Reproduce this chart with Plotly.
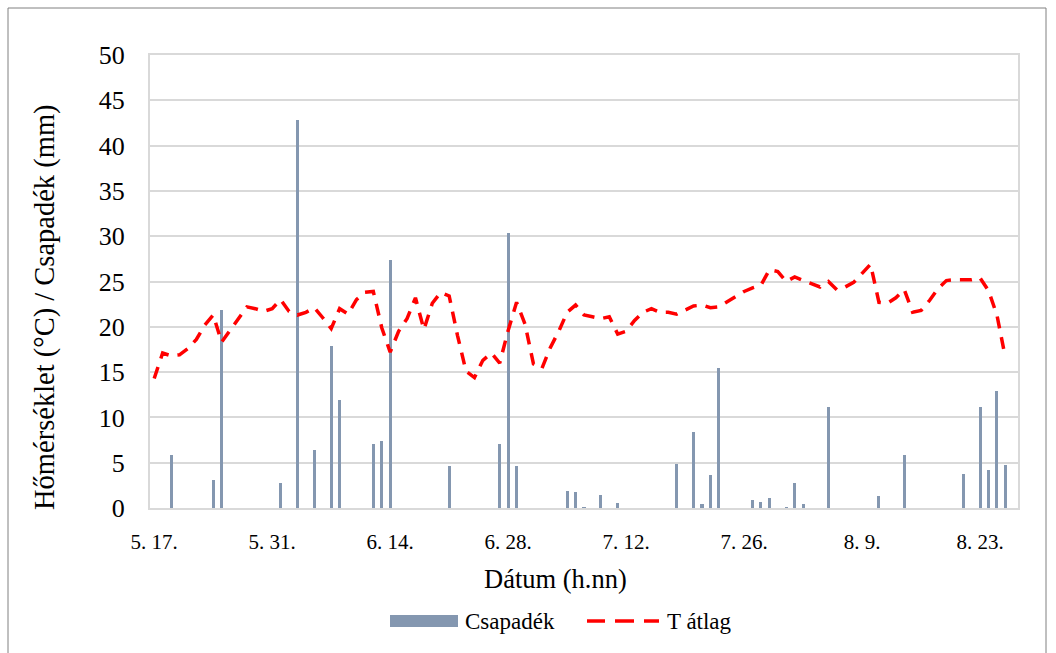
import pandas as pd
import plotly.graph_objects as go

# ---------------- data ----------------
dates = pd.date_range("2021-05-17", "2021-08-27", freq="D")  # 103 days

precip = [0, 0, 5.9, 0, 0, 0, 0, 3.1, 21.8, 0,
          0, 0, 0, 0, 0, 2.8, 0, 42.8, 0, 6.4,
          0, 17.9, 11.9, 0, 0, 0, 7.1, 7.4, 27.4, 0,
          0, 0, 0, 0, 0, 4.6, 0, 0, 0, 0,
          0, 7.1, 30.4, 4.6, 0, 0, 0, 0, 0, 1.9,
          1.8, 0.1, 0, 1.4, 0, 0.5, 0, 0, 0, 0,
          0, 0, 4.9, 0, 8.4, 0.4, 3.6, 15.5, 0, 0,
          0, 0.9, 0.7, 1.1, 0, 0.1, 2.8, 0.4, 0, 0,
          11.1, 0, 0, 0, 0, 0, 1.3, 0, 0, 5.9,
          0, 0, 0, 0, 0, 0, 3.8, 0, 11.1, 4.2,
          12.9, 4.8, 0]

t_avg = [14.3, 17.1, 16.8, 16.9, 17.6, 18.6, 20.2, 21.3, 18.3, 19.6,
         20.9, 22.2, 22.0, 21.7, 22.0, 23.0, 21.7, 21.3, 21.6, 22.1,
         21.0, 19.8, 22.0, 21.4, 23.0, 23.8, 23.9, 19.9, 17.2, 19.5,
         20.9, 23.2, 19.7, 22.6, 23.8, 23.4, 19.0, 15.1, 14.4, 16.3,
         17.1, 16.0, 19.6, 22.7, 20.3, 15.9, 15.4, 17.7, 19.5, 21.6,
         22.4, 21.3, 21.1, 20.9, 21.1, 19.2, 19.5, 20.7, 21.6, 22.0,
         21.6, 21.6, 21.4, 21.9, 22.3, 22.4, 22.1, 22.2, 22.8, 23.4,
         23.9, 24.3, 24.6, 26.3, 26.1, 25.0, 25.5, 25.1, 24.7, 24.4,
         25.0, 24.1, 24.4, 24.9, 25.9, 26.9, 22.7, 22.6, 23.2, 24.1,
         21.6, 21.8, 22.9, 24.2, 25.1, 25.2, 25.2, 25.2, 25.4, 24.0,
         21.3, 16.6, None]

tick_dates = ["2021-05-17", "2021-05-31", "2021-06-14", "2021-06-28",
              "2021-07-12", "2021-07-26", "2021-08-09", "2021-08-23"]
tick_labels = ["5. 17.", "5. 31.", "6. 14.", "6. 28.",
               "7. 12.", "7. 26.", "8. 9.", "8. 23."]
y_ticks = [0, 5, 10, 15, 20, 25, 30, 35, 40, 45, 50]

series_names = ["Csapadék", "T átlag"]
x_title = "Dátum (h.nn)"
y_title = "Hőmérséklet (°C) / Csapadék (mm)"

# ---------------- style ----------------
BAR_COLOR = "#8497B0"
LINE_COLOR = "#FF0000"
GRID = "#D9D9D9"
FONT = "Times New Roman, Liberation Serif, DejaVu Serif, serif"
DAY_MS = 86400000

W, H = 1056, 653
ML, MR, MT, MB = 150, 38, 55, 145
PW, PH = W - ML - MR, H - MT - MB


def px_x(px):
    return (px - ML) / PW


def px_y(py):
    return (H - MB - py) / PH


fig = go.Figure()
fig.add_trace(go.Bar(x=dates, y=precip, name=series_names[0],
                     marker=dict(color=BAR_COLOR, line=dict(width=0)),
                     width=0.36 * DAY_MS, showlegend=False))
fig.add_trace(go.Scatter(x=dates, y=t_avg, name=series_names[1], mode="lines",
                         line=dict(color=LINE_COLOR, width=3.5, dash="12px,9px"),
                         showlegend=False))

shapes = []
# outer chart border
shapes.append(dict(type="rect", xref="paper", yref="paper",
                   x0=px_x(8), x1=px_x(1046), y0=px_y(665), y1=px_y(8),
                   line=dict(color="#808080", width=1), fillcolor="rgba(0,0,0,0)"))
# legend swatches
shapes.append(dict(type="rect", xref="paper", yref="paper",
                   x0=px_x(390), x1=px_x(458), y0=px_y(627), y1=px_y(615),
                   line=dict(width=0), fillcolor=BAR_COLOR))
for a, b in [(587, 605), (615, 634), (644, 659)]:
    shapes.append(dict(type="line", xref="paper", yref="paper",
                       x0=px_x(a), x1=px_x(b), y0=px_y(621), y1=px_y(621),
                       line=dict(color=LINE_COLOR, width=3.5)))

annotations = [
    dict(text=series_names[0], xref="paper", yref="paper", x=px_x(463), y=px_y(621),
         xanchor="left", yanchor="middle", showarrow=False,
         font=dict(family=FONT, size=23, color="#000000")),
    dict(text=series_names[1], xref="paper", yref="paper", x=px_x(665), y=px_y(621),
         xanchor="left", yanchor="middle", showarrow=False,
         font=dict(family=FONT, size=23, color="#000000")),
    dict(text=x_title, xref="paper", yref="paper", x=px_x(555), y=px_y(579),
         xanchor="center", yanchor="middle", showarrow=False,
         font=dict(family=FONT, size=26.5, color="#000000")),
    dict(text=y_title, xref="paper", yref="paper", x=px_x(45), y=px_y(307),
         xanchor="center", yanchor="middle", showarrow=False, textangle=-90,
         font=dict(family=FONT, size=28.5, color="#000000")),
]

fig.update_layout(
    width=W, height=H,
    margin=dict(l=ML, r=MR, t=MT, b=MB, pad=0),
    paper_bgcolor="white", plot_bgcolor="white",
    bargap=0, showlegend=False,
    shapes=shapes, annotations=annotations,
    xaxis=dict(type="date",
               range=["2021-05-16 12:00", "2021-08-27 12:00"],
               tickvals=tick_dates, ticktext=tick_labels,
               tickfont=dict(family=FONT, size=21, color="#000000"),
               showgrid=False, showline=True, mirror=True,
               linecolor=GRID, linewidth=2, ticks="",
               ticklabelstandoff=14, zeroline=False),
    yaxis=dict(range=[0, 50], tickvals=y_ticks,
               tickfont=dict(family=FONT, size=26, color="#000000"),
               showgrid=True, gridcolor=GRID, gridwidth=1.5,
               showline=True, mirror=True, linecolor=GRID, linewidth=2,
               ticks="", ticklabelstandoff=18, zeroline=False),
)

fig.write_html("out.html")
